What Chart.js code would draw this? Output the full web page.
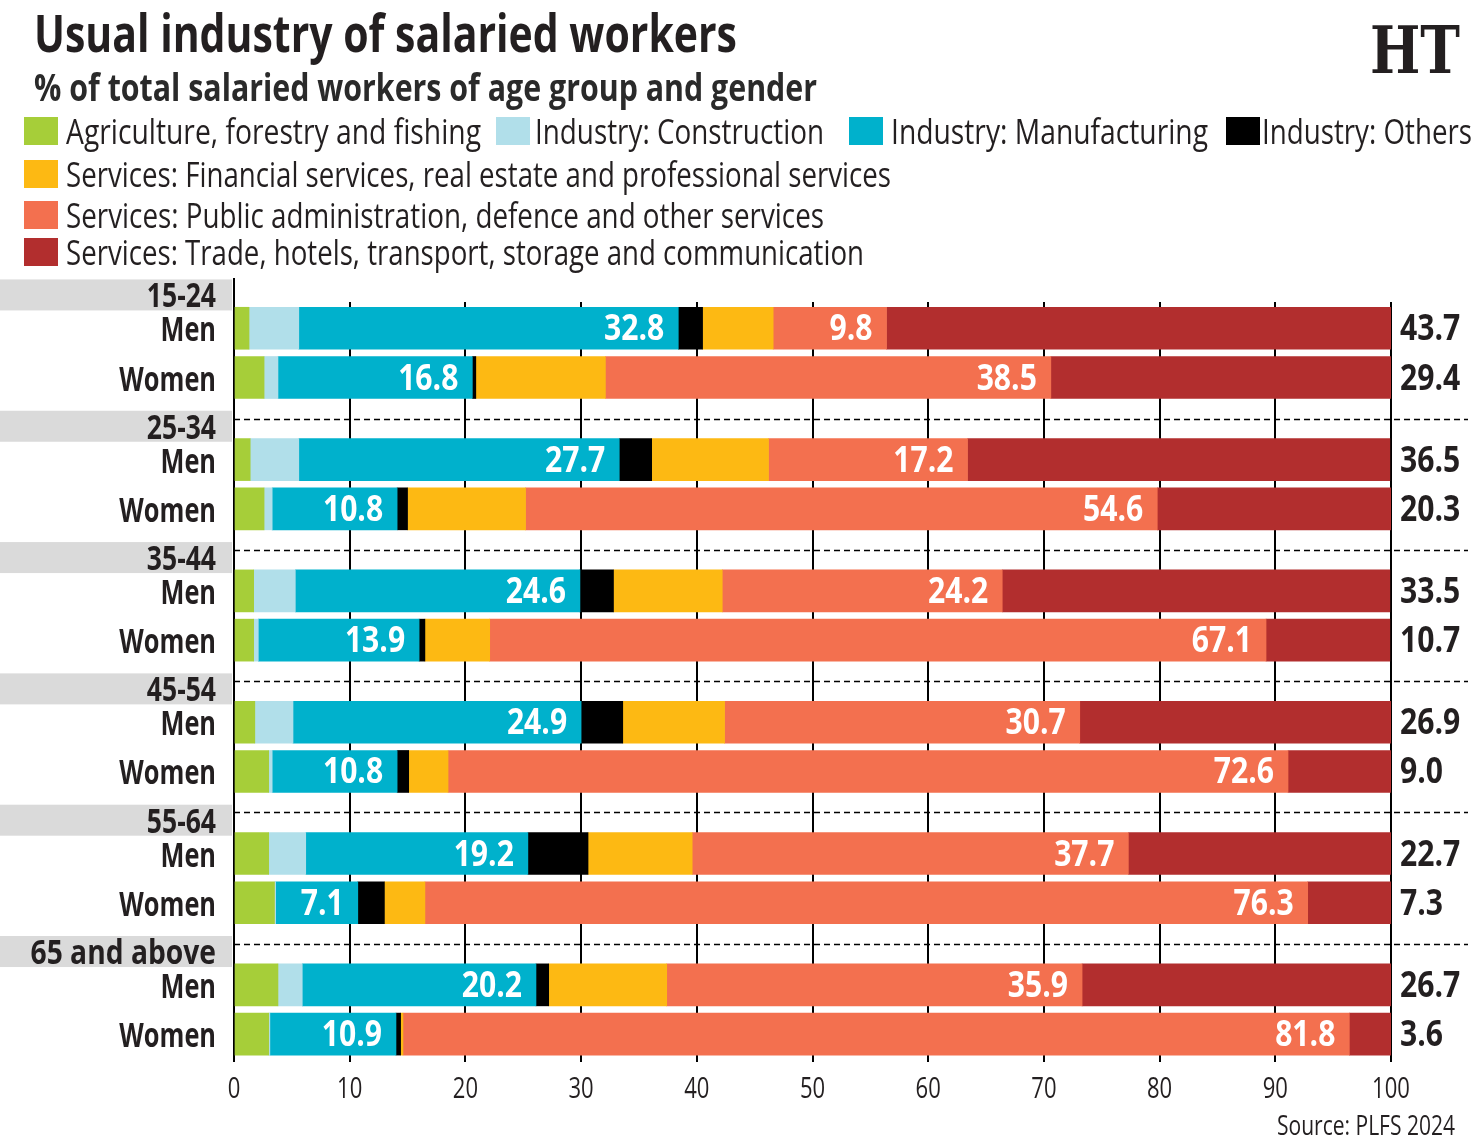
<!DOCTYPE html>
<html>
<head>
<meta charset="utf-8">
<script src="https://cdn.jsdelivr.net/npm/chart.js@4.4.1/dist/chart.umd.min.js"></script>
<style>
  html, body { margin: 0; padding: 0; background: #fff; }
  body { width: 1484px; height: 1144px; position: relative; overflow: hidden;
         font-family: 'Open Sans', 'Noto Sans', sans-serif; color: #231f20; }
  .txt { position: absolute; white-space: nowrap; line-height: 1; transform-origin: left top; }
  #title { left: 34px; top: 6px; font-size: 52px; font-weight: bold; }
  #subtitle { left: 34px; top: 67px; font-size: 38px; font-weight: bold; color: #2a2a2a; }
  #logo { left: 1370px; top: 17px; font-size: 66px; font-weight: bold;
          font-family: 'DejaVu Serif', 'Liberation Serif', serif; }
  #source { top: 1110px; font-size: 28px; }
  .sw { position: absolute; width: 34px; height: 28px; }
  .legt { font-size: 34px; }
  #chartBox { position: absolute; left: 0; top: 0; width: 1484px; height: 1144px; }
</style>
</head>
<body>
<div id="chartBox"><canvas id="c" width="1484" height="1144"></canvas></div>
<div class="txt" id="title">Usual industry of salaried workers</div>
<div class="txt" id="subtitle">% of total salaried workers of age group and gender</div>
<div class="txt" id="logo">HT</div>
<div class="txt" id="source">Source: PLFS 2024</div>
<div id="legend"></div>
<script>
// ---------- DATA ----------
const ageGroups = ['15-24', '25-34', '35-44', '45-54', '55-64', '65 and above'];
const genders = ['Men', 'Women'];
const seriesNames = [
  'Agriculture, forestry and fishing',
  'Industry: Construction',
  'Industry: Manufacturing',
  'Industry: Others',
  'Services: Financial services, real estate and professional services',
  'Services: Public administration, defence and other services',
  'Services: Trade, hotels, transport, storage and communication'
];
// rows: 15-24 Men, 15-24 Women, 25-34 Men, 25-34 Women, ... 65+ Men, 65+ Women
const agriculture   = [1.3, 2.6, 1.4, 2.6, 1.7, 1.7, 1.8, 3.0, 3.0, 3.5, 3.8, 3.0];
const construction  = [4.3, 1.2, 4.2, 0.7, 3.6, 0.4, 3.3, 0.3, 3.2, 0.1, 2.1, 0.1];
const manufacturing = [32.8, 16.8, 27.7, 10.8, 24.6, 13.9, 24.9, 10.8, 19.2, 7.1, 20.2, 10.9];
const industryOther = [2.1, 0.3, 2.8, 0.9, 2.9, 0.5, 3.6, 1.0, 5.2, 2.3, 1.1, 0.4];
const financial     = [6.1, 11.2, 10.1, 10.2, 9.4, 5.6, 8.8, 3.4, 9.0, 3.5, 10.2, 0.2];
const publicAdmin   = [9.8, 38.5, 17.2, 54.6, 24.2, 67.1, 30.7, 72.6, 37.7, 76.3, 35.9, 81.8];
const trade         = [43.7, 29.4, 36.5, 20.3, 33.5, 10.7, 26.9, 9.0, 22.7, 7.3, 26.7, 3.6];
const xTicks = [0, 10, 20, 30, 40, 50, 60, 70, 80, 90, 100];

// ---------- STYLE / LAYOUT ----------
const colors = ['#a6ce39', '#b1dfea', '#00b1cc', '#000000', '#fdb913', '#f3704f', '#b22e2e'];
const seriesValues = [agriculture, construction, manufacturing, industryOther, financial, publicAdmin, trade];
const FONT = "'Open Sans', 'Noto Sans', sans-serif";
const INK = '#231f20';

function fitX(el, target) {
  el.style.transform = '';
  const w = el.getBoundingClientRect().width;
  el.style.transform = 'scaleX(' + (target / w) + ')';
}
fitX(document.getElementById('title'), 703);
fitX(document.getElementById('subtitle'), 783);
fitX(document.getElementById('logo'), 90);
const src = document.getElementById('source');
src.style.left = (1455 - 178) + 'px';
fitX(src, 178);

// legend layout: [swatch left, text left, text width, baseline]
const legendLayout = [
  [24, 66, 415, 144], [496, 535, 289, 144], [849, 891, 317, 144], [1226, 1262, 210, 144],
  [24, 66, 825, 187], [24, 66, 758, 228], [24, 66, 798, 265]
];
const legendEl = document.getElementById('legend');
seriesNames.forEach((name, k) => {
  const [sl, tl, tw, bl] = legendLayout[k];
  const sw = document.createElement('div');
  sw.className = 'sw';
  sw.style.left = sl + 'px';
  sw.style.top = (bl - 27) + 'px';
  sw.style.background = colors[k];
  legendEl.appendChild(sw);
  const t = document.createElement('div');
  t.className = 'txt legt';
  t.textContent = name;
  t.style.left = tl + 'px';
  t.style.top = (bl - 30) + 'px';
  legendEl.appendChild(t);
  fitX(t, tw);
});

// row index -> vertical slot (8 slots per age group; header slot 0, Men slot 2, Women slot 5)
const rowSlot = i => Math.floor(i / 2) * 8 + 2 + (i % 2) * 3;

const datasets = seriesNames.map((name, k) => ({
  label: name,
  data: seriesValues[k].map((v, i) => ({ x: v, y: rowSlot(i) })),
  backgroundColor: colors[k],
  borderWidth: 0,
  barThickness: 42,
  stack: 'all'
}));

function condText(ctx, text, x, y, align, sx) {
  ctx.save();
  ctx.translate(x, y);
  ctx.scale(sx, 1);
  ctx.textAlign = align;
  ctx.textBaseline = 'alphabetic';
  ctx.fillText(text, 0, 0);
  ctx.restore();
}

const decor = {
  id: 'decor',
  beforeDatasetsDraw(chart) {
    const ctx = chart.ctx, xs = chart.scales.x, ys = chart.scales.y, ca = chart.chartArea;
    ctx.save();
    // age group bands + labels
    ageGroups.forEach((g, gi) => {
      const yc = ys.getPixelForValue(gi * 8);
      ctx.fillStyle = '#dadada';
      ctx.fillRect(0, yc - 16, 232, 31);
      ctx.fillStyle = INK;
      ctx.font = 'bold 34px ' + FONT;
      condText(ctx, g, 216, yc + 12, 'right', g.length > 6 ? 0.83 : 0.78);
    });
    // gender labels
    ctx.font = 'bold 34px ' + FONT;
    ctx.fillStyle = INK;
    for (let i = 0; i < ageGroups.length * 2; i++) {
      const yc = ys.getPixelForValue(rowSlot(i));
      condText(ctx, genders[i % 2], 216, yc + 13, 'right', 0.745);
    }
    // dashed separators
    ctx.strokeStyle = '#000';
    ctx.lineWidth = 1.5;
    ctx.setLineDash([6, 4]);
    for (let gi = 1; gi < ageGroups.length; gi++) {
      const y = Math.round(ys.getPixelForValue(gi * 8 - 0.5)) + 0.5;
      ctx.beginPath();
      ctx.moveTo(xs.getPixelForValue(0), y);
      ctx.lineTo(1468, y);
      ctx.stroke();
    }
    ctx.setLineDash([]);
    // zero line extension to top
    ctx.lineWidth = 2;
    ctx.beginPath();
    const x0 = xs.getPixelForValue(0);
    ctx.moveTo(x0, 278);
    ctx.lineTo(x0, ca.top);
    ctx.stroke();
    ctx.restore();
  },
  afterDatasetsDraw(chart) {
    const ctx = chart.ctx, xs = chart.scales.x, ca = chart.chartArea;
    ctx.save();
    ctx.font = 'bold 35px ' + FONT;
    [2, 5].forEach(k => {
      const meta = chart.getDatasetMeta(k);
      meta.data.forEach((el, i) => {
        ctx.fillStyle = '#ffffff';
        condText(ctx, seriesValues[k][i].toFixed(1), el.x - 14, el.y + 12, 'right', 0.86);
      });
    });
    const metaT = chart.getDatasetMeta(6);
    metaT.data.forEach((el, i) => {
      ctx.fillStyle = INK;
      condText(ctx, trade[i].toFixed(1), xs.getPixelForValue(100) + 9, el.y + 12, 'left', 0.86);
    });
    // x tick labels
    ctx.font = '29px ' + FONT;
    ctx.fillStyle = INK;
    xTicks.forEach(v => {
      condText(ctx, String(v), xs.getPixelForValue(v), ca.bottom + 36, 'center', 0.76);
    });
    ctx.restore();
  }
};

new Chart(document.getElementById('c'), {
  type: 'bar',
  data: { datasets },
  options: {
    indexAxis: 'y',
    responsive: false,
    animation: false,
    devicePixelRatio: 1,
    layout: { padding: { left: 234, right: 93, top: 302, bottom: 32 } },
    plugins: { legend: { display: false }, tooltip: { enabled: false } },
    scales: {
      x: {
        type: 'linear', min: 0, max: 100, stacked: true,
        border: { display: false },
        grid: { color: '#000', lineWidth: 2, drawTicks: false },
        afterBuildTicks: s => { s.ticks = xTicks.map(v => ({ value: v })); },
        ticks: { display: false },
        afterFit: s => { s.height = 50; }
      },
      y: { type: 'linear', min: 0.4, max: 46.7, reverse: true, stacked: true, offset: false, display: false }
    }
  },
  plugins: [decor]
});
</script>
</body>
</html>
